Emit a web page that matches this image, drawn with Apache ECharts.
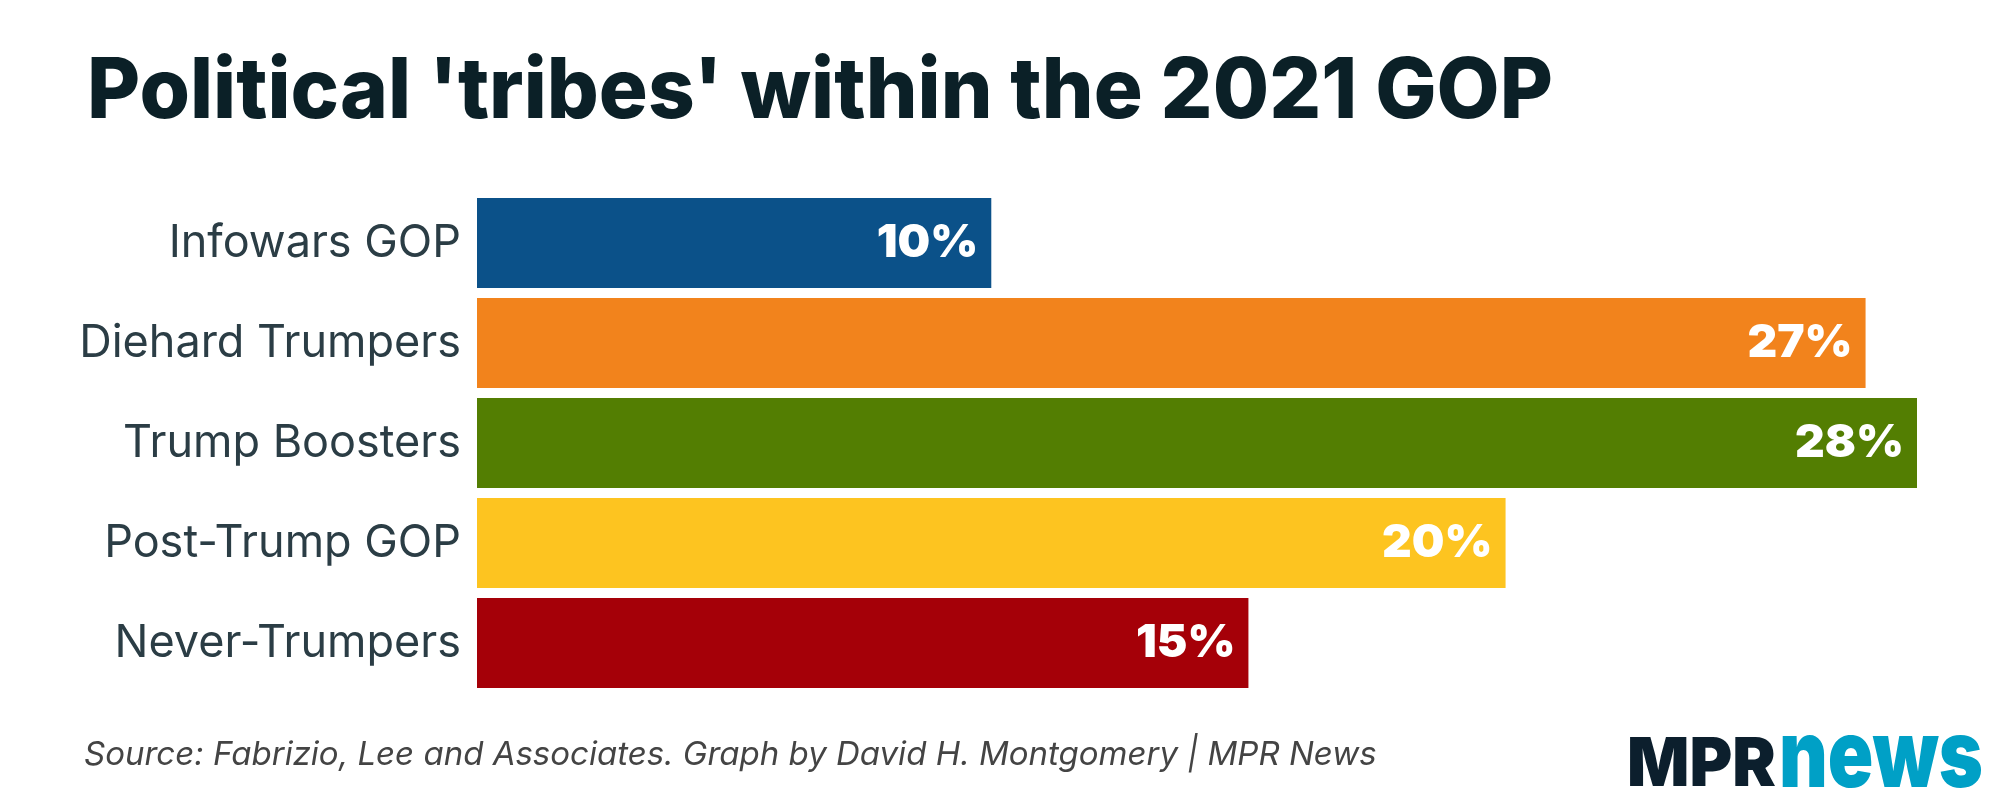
<!DOCTYPE html>
<html>
<head>
<meta charset="utf-8">
<script src="https://cdn.jsdelivr.net/npm/echarts@6/dist/echarts.min.js"></script>
<style>
html,body{margin:0;padding:0;background:#fff;}
#chart{width:2000px;height:800px;}
</style>
</head>
<body>
<div id="chart"></div>
<script>
const titleText = "Political 'tribes' within the 2021 GOP";
const categories = ['Infowars GOP', 'Diehard Trumpers', 'Trump Boosters', 'Post-Trump GOP', 'Never-Trumpers'];
const values = [10, 27, 28, 20, 15];
const sourceText = 'Source: Fabrizio, Lee and Associates. Graph by David H. Montgomery | MPR News';

const palette = ['#0b5189', '#f2831c', '#537e02', '#fdc420', '#a50008'];

const chart = echarts.init(document.getElementById('chart'));
chart.setOption({
  backgroundColor: '#ffffff',
  animation: false,
  grid: { left: 477, right: 83, top: 193, bottom: 107, containLabel: false },
  xAxis: {
    type: 'value', min: 0, max: 28,
    show: false, splitLine: { show: false }
  },
  yAxis: {
    type: 'category', data: categories, inverse: true,
    axisLine: { show: false }, axisTick: { show: false },
    axisLabel: {
      margin: 16, fontSize: 45, color: '#2b3d45',
      fontFamily: 'Inter', fontWeight: 400, padding: [7, 0, 0, 0]
    }
  },
  series: [{
    type: 'bar',
    data: values.map((v, i) => ({ value: v, itemStyle: { color: palette[i] } })),
    barCategoryGap: '10%',
    label: {
      show: true, position: 'insideRight', distance: 13,
      formatter: p => p.value + '%', padding: [6, 0, 0, 0],
      color: '#ffffff', fontSize: 46, fontWeight: 900, fontFamily: 'Inter'
    }
  }],
  graphic: [
    {
      type: 'text', x: 87, y: 51, scaleX: 0.972,
      style: { text: titleText, fontSize: 84, fontWeight: 800, fontFamily: 'Inter', fill: '#0b2027' }
    },
    {
      type: 'text', x: 84, y: 739,
      style: { text: sourceText, fontSize: 33, fontStyle: 'italic', fontFamily: 'Inter', fill: '#444444' }
    },
    {
      type: 'text', x: 1627, y: 800, scaleX: 0.96,
      style: { text: 'MPR', fontSize: 68, fontWeight: 900, fontFamily: 'Inter', fill: '#0c1f2d', verticalAlign: 'bottom' }
    },
    {
      type: 'text', x: 1779, y: 806, scaleX: 0.8,
      style: { text: 'news', fontSize: 94, fontWeight: 900, fontFamily: 'Inter', fill: '#00a0c6', verticalAlign: 'bottom' }
    }
  ]
});
</script>
</body>
</html>
